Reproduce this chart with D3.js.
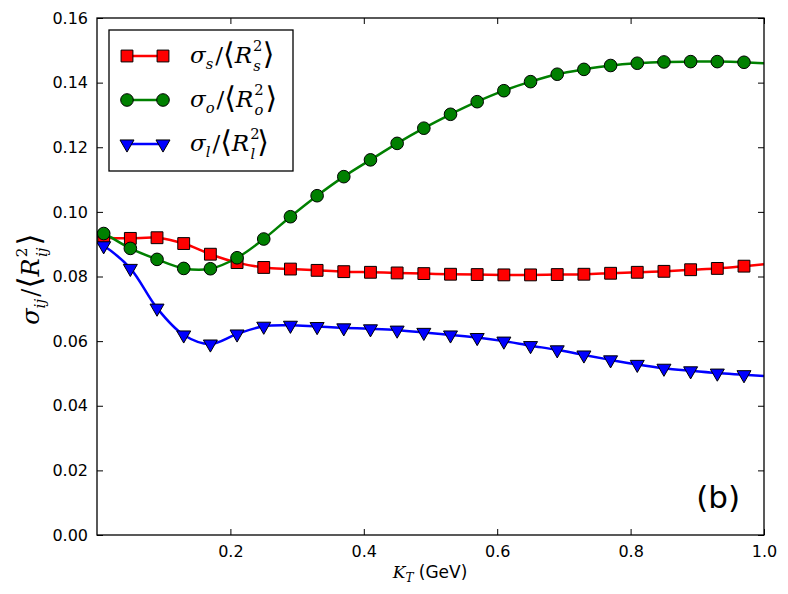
<!DOCTYPE html>
<html>
<head>
<meta charset="utf-8">
<script src="https://cdn.jsdelivr.net/npm/d3@7"></script>
<style>
  body { margin: 0; background: #fff; }
  text { font-family: "DejaVu Sans", sans-serif; }
  .math { font-family: "DejaVu Serif", serif; }
</style>
</head>
<body>
<svg id="chart" width="788" height="594"></svg>
<script>
// K_T sample points (GeV) where the markers sit
const kt = [0.01, 0.05, 0.09, 0.13, 0.17, 0.21, 0.25, 0.29, 0.33, 0.37, 0.41, 0.45, 0.49,
            0.53, 0.57, 0.61, 0.65, 0.69, 0.73, 0.77, 0.81, 0.85, 0.89, 0.93, 0.97];
const sigmaS = [0.0920, 0.0918, 0.0920, 0.0902, 0.0869, 0.0843, 0.0828, 0.0823, 0.0819, 0.0815, 0.0813,
                0.0811, 0.0809, 0.0807, 0.0806, 0.0805, 0.0805, 0.0806, 0.0807, 0.0810, 0.0813,
                0.0816, 0.0821, 0.0825, 0.0832];
const sigmaO = [0.0933, 0.0887, 0.0853, 0.0825, 0.0824, 0.0858, 0.0916, 0.0985, 0.1050, 0.1109, 0.1161,
                0.1212, 0.1259, 0.1302, 0.1341, 0.1375, 0.1403, 0.1426, 0.1441, 0.1453, 0.1460,
                0.1464, 0.1465, 0.1465, 0.1463];
const sigmaL = [0.0895, 0.0825, 0.0702, 0.0619, 0.0591, 0.0622, 0.0646, 0.0649, 0.0645, 0.0641, 0.0638,
                0.0634, 0.0627, 0.0619, 0.0611, 0.0600, 0.0586, 0.0573, 0.0557, 0.0542, 0.0528,
                0.0516, 0.0508, 0.0501, 0.0496];
// where the curves meet the frame at K_T = 0 and K_T = 1.0
const edgeKt = [0.0, 1.0];
const edgeS = [0.0922, 0.0838];
const edgeO = [0.0938, 0.1460];
const edgeL = [0.0905, 0.0492];

const xTicks = [0.2, 0.4, 0.6, 0.8, 1.0];
const yTicks = [0.00, 0.02, 0.04, 0.06, 0.08, 0.10, 0.12, 0.14, 0.16];

const series = [
  { sub: "s", color: "#ff0000", shape: "square", vals: sigmaS, edge: edgeS },
  { sub: "o", color: "#008000", shape: "circle", vals: sigmaO, edge: edgeO },
  { sub: "l", color: "#0000ff", shape: "tri",    vals: sigmaL, edge: edgeL }
];

const svg = d3.select("#chart");
const box = { left: 97, right: 764, top: 18, bottom: 535 };

const x = d3.scaleLinear().domain([0, 1.0]).range([box.left, box.right]);
const y = d3.scaleLinear().domain([0, 0.16]).range([box.bottom, box.top]);

function markerPath(shape) {
  if (shape === "square") return d3.symbol(d3.symbolSquare, 140)();
  if (shape === "circle") return d3.symbol(d3.symbolCircle, 125)();
  return d3.symbol(d3.symbolTriangle, 85)();
}
function markerTransform(shape, px, py) {
  return shape === "tri" ? `translate(${px},${py}) rotate(180)` : `translate(${px},${py})`;
}

const line = d3.line()
  .x(d => x(d[0]))
  .y(d => y(d[1]))
  .curve(d3.curveCatmullRom.alpha(0.5));

const plot = svg.append("g");
plot.append("clipPath").attr("id", "clip")
  .append("rect").attr("x", box.left).attr("y", box.top)
  .attr("width", box.right - box.left).attr("height", box.bottom - box.top);

series.forEach(s => {
  const pts = [[edgeKt[0], s.edge[0]]]
    .concat(kt.map((k, i) => [k, s.vals[i]]))
    .concat([[edgeKt[1], s.edge[1]]]);
  plot.append("path")
    .attr("d", line(pts))
    .attr("fill", "none")
    .attr("stroke", s.color)
    .attr("stroke-width", 2.5)
    .attr("clip-path", "url(#clip)");
});

series.forEach(s => {
  plot.append("g").attr("clip-path", "url(#clip)")
    .selectAll("path")
    .data(kt.map((k, i) => [k, s.vals[i]]))
    .join("path")
    .attr("d", markerPath(s.shape))
    .attr("transform", d => markerTransform(s.shape, x(d[0]), y(d[1])))
    .attr("fill", s.color)
    .attr("stroke", "#000")
    .attr("stroke-width", 1);
});

// axes, ticks pointing inward on every side
const fmtX = d3.format(".1f"), fmtY = d3.format(".2f");
const axB = svg.append("g").attr("transform", `translate(0,${box.bottom})`)
  .call(d3.axisBottom(x).tickValues(xTicks).tickSize(-6).tickPadding(11).tickFormat(fmtX));
const axT = svg.append("g").attr("transform", `translate(0,${box.top})`)
  .call(d3.axisTop(x).tickValues(xTicks).tickSize(-6).tickFormat(""));
const axL = svg.append("g").attr("transform", `translate(${box.left},0)`)
  .call(d3.axisLeft(y).tickValues(yTicks).tickSize(-6).tickPadding(9).tickFormat(fmtY));
const axR = svg.append("g").attr("transform", `translate(${box.right},0)`)
  .call(d3.axisRight(y).tickValues(yTicks).tickSize(-6).tickFormat(""));
[axB, axT, axL, axR].forEach(a => {
  a.select(".domain").remove();
  a.selectAll("text").attr("font-size", 16).attr("fill", "#000")
    .attr("font-family", "DejaVu Sans, sans-serif");
  a.selectAll("line").attr("stroke", "#000").attr("stroke-width", 1);
});

svg.append("rect")
  .attr("x", box.left).attr("y", box.top)
  .attr("width", box.right - box.left).attr("height", box.bottom - box.top)
  .attr("fill", "none").attr("stroke", "#000").attr("stroke-width", 1.3);

// sigma_sub / <R_sub^2>
function mathText(g, px, py, size, sub) {
  const t = g.append("text").attr("class", "math")
    .attr("x", px).attr("y", py).attr("font-size", size);
  const s = size * 0.64;
  t.append("tspan").attr("font-style", "italic").text("σ");
  t.append("tspan").attr("font-style", "italic").attr("font-size", s)
    .attr("dy", size * 0.25).text(sub);
  t.append("tspan").attr("dy", -size * 0.25).attr("dx", 2).text("/");
  t.append("tspan").attr("font-size", size * 1.3).attr("dy", size * 0.05).text("⟨");
  t.append("tspan").attr("font-style", "italic").attr("dy", -size * 0.05).text("R");
  t.append("tspan").attr("font-size", s).attr("dx", 1).attr("dy", -size * 0.52).text("2");
  t.append("tspan").attr("font-style", "italic").attr("font-size", s)
    .attr("dx", -s * 0.62).attr("dy", size * 0.86).text(sub);
  t.append("tspan").attr("font-size", size * 1.3).attr("dx", 2)
    .attr("dy", -size * 0.29).text("⟩");
  return t;
}

// legend
const leg = svg.append("g");
leg.append("rect")
  .attr("x", 109).attr("y", 30).attr("width", 184).attr("height", 141)
  .attr("fill", "#fff").attr("stroke", "#000").attr("stroke-width", 1.3);
series.forEach((s, i) => {
  const ly = 56 + i * 44;
  leg.append("line").attr("x1", 127).attr("x2", 163).attr("y1", ly).attr("y2", ly)
    .attr("stroke", s.color).attr("stroke-width", 2.5);
  [127, 163].forEach(mx => {
    leg.append("path").attr("d", markerPath(s.shape))
      .attr("transform", markerTransform(s.shape, mx, ly))
      .attr("fill", s.color).attr("stroke", "#000").attr("stroke-width", 1);
  });
  mathText(leg, 190, ly + 7, 23, s.sub);
});

// axis titles
const xl = svg.append("text").attr("x", 430).attr("y", 578)
  .attr("text-anchor", "middle").attr("font-size", 17);
xl.append("tspan").attr("class", "math").attr("font-style", "italic").text("K");
xl.append("tspan").attr("class", "math").attr("font-style", "italic")
  .attr("font-size", 12).attr("dy", 4).text("T");
xl.append("tspan").attr("dy", -4).text(" (GeV)");

const ylab = svg.append("g").attr("transform", "translate(39,279) rotate(-90)");
mathText(ylab, 0, 0, 24, "ij").attr("text-anchor", "middle");

svg.append("text").attr("x", 740).attr("y", 508)
  .attr("text-anchor", "end").attr("font-size", 31).text("(b)");
</script>
</body>
</html>
